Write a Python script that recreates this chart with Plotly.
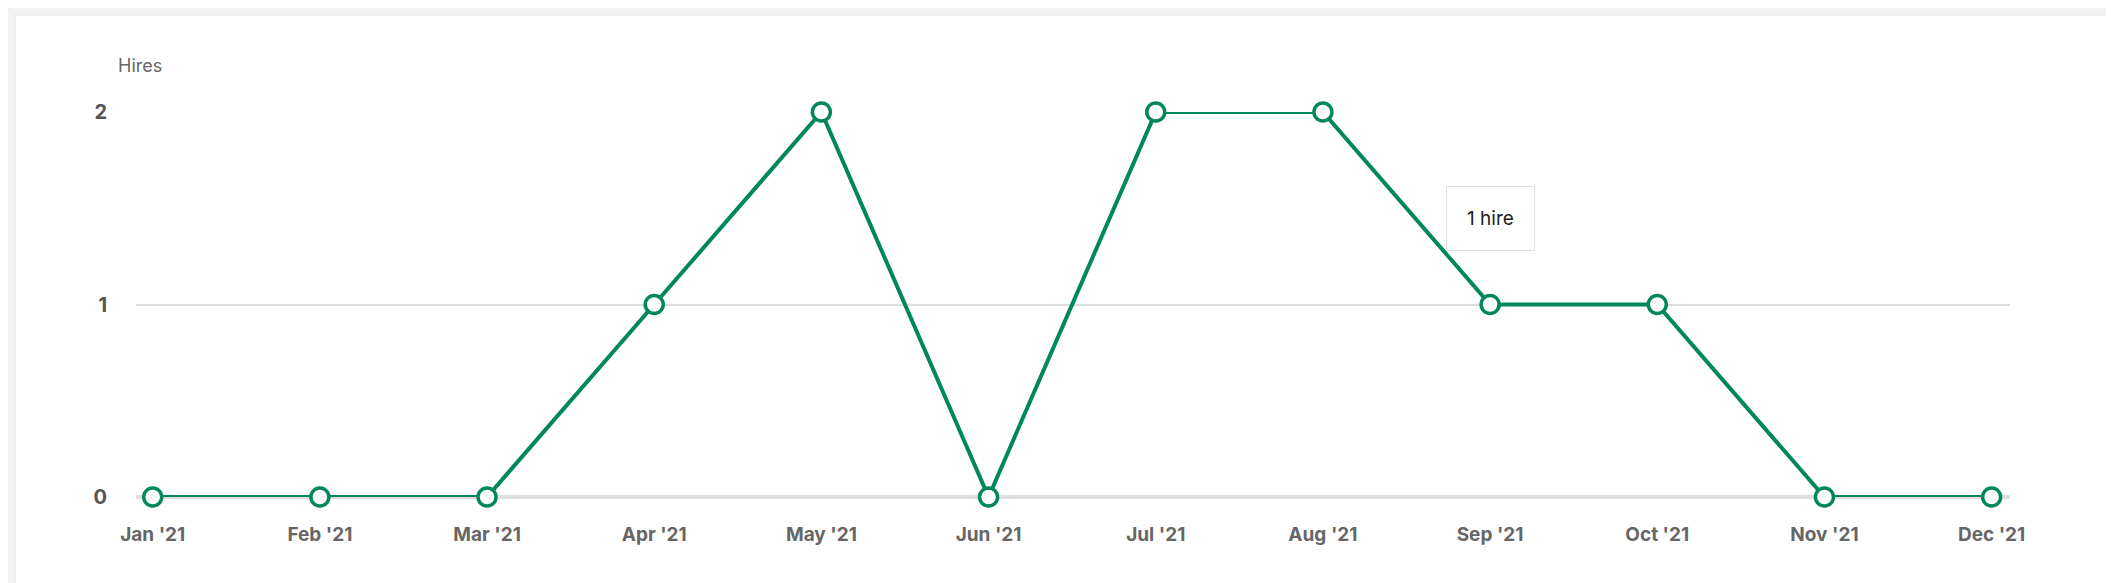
import plotly.graph_objects as go

months = ["Jan '21","Feb '21","Mar '21","Apr '21","May '21","Jun '21","Jul '21","Aug '21","Sep '21","Oct '21","Nov '21","Dec '21"]
hires = [0,0,0,1,2,0,2,2,1,1,0,0]
y_ticks = [0,1,2]
tooltip_index = 8
tooltip_text = "1 hire"

green = "#00875a"
x = list(range(len(months)))

fig = go.Figure()
fig.add_trace(go.Scatter(x=x, y=hires, mode="lines+markers",
    line=dict(color=green, width=4),
    marker=dict(size=18, color="white", line=dict(color=green, width=3.5)),
    cliponaxis=False, hoverinfo="skip"))

fig.add_shape(type="rect", xref="paper", yref="paper", x0=-0.0646, x1=1.0555, y0=-0.226, y1=1.252,
    fillcolor="white", line=dict(color="#e2e2e2", width=1), layer="below")

fig.add_annotation(x=tooltip_index, y=hires[tooltip_index], ax=0, ay=-86, text=tooltip_text,
    showarrow=True, arrowcolor="rgba(0,0,0,0)", arrowwidth=0.1, standoff=0,
    bgcolor="white", bordercolor="#e0e0e0", borderwidth=1, borderpad=20,
    font=dict(family="Inter, Lato, sans-serif", size=19, color="#222"))

fig.add_annotation(xref="paper", yref="paper", x=-0.0107, y=1.122, text="Hires", showarrow=False,
    xanchor="left", yanchor="middle", font=dict(family="Inter, Lato, sans-serif", size=18, color="#666"))

fig.update_layout(
    width=2114, height=583, margin=dict(l=128, r=112, t=104, b=94),
    paper_bgcolor="#f2f2f2", plot_bgcolor="white", showlegend=False,
    xaxis=dict(range=[-0.1, 11.11], tickvals=x, ticktext=months, showgrid=False, zeroline=False,
               ticks="", ticklabelstandoff=24,
               tickfont=dict(family="Inter, Lato, sans-serif", size=19, color="#666", weight="bold")),
    yaxis=dict(range=[0, 2], tickvals=y_ticks, showgrid=True, gridcolor="#dedede", gridwidth=1.5,
               zeroline=True, zerolinecolor="#dedede", zerolinewidth=4, ticks="", ticklabelstandoff=28,
               tickfont=dict(family="Inter, Lato, sans-serif", size=20, color="#555", weight="bold")),
)
fig.write_html("out.html")
